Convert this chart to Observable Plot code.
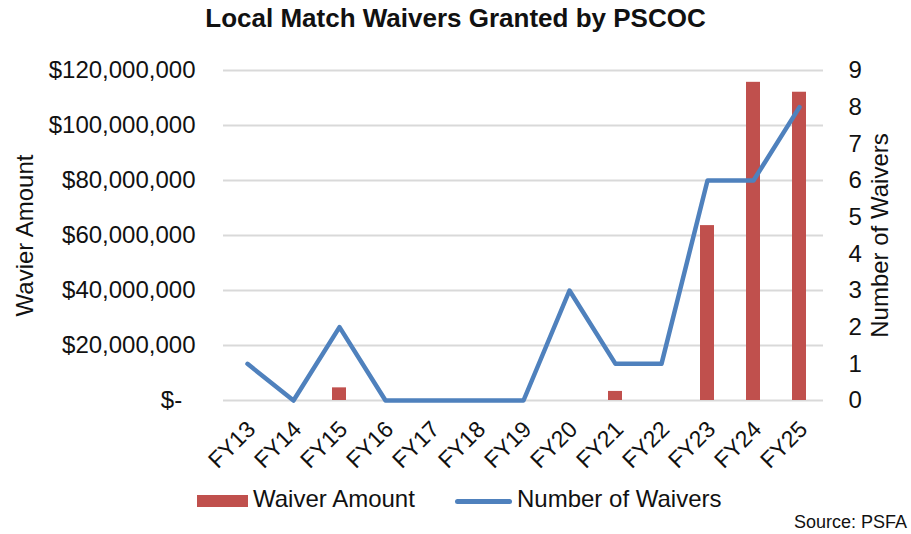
<!DOCTYPE html>
<html>
<head>
<meta charset="utf-8">
<script src="https://cdn.jsdelivr.net/npm/d3@7"></script>
<script src="https://cdn.jsdelivr.net/npm/@observablehq/plot@0.6"></script>
<style>
  html, body { margin: 0; padding: 0; background: #fff; }
  #wrap { position: relative; width: 911px; height: 534px; font-family: "Liberation Sans", Arial, sans-serif; color: #111; overflow: hidden; }
  #title { position: absolute; left: 0; top: 3px; width: 911px; text-align: center; font-weight: bold; font-size: 26px; line-height: 30px; }
  #chart { position: absolute; left: 0; top: 45px; }
  .lg { position: absolute; font-size: 24px; line-height: 30px; top: 484px; white-space: nowrap; }
  #sw1 { position: absolute; left: 197px; top: 495px; width: 51px; height: 12px; background: #C0504D; }
  #sw2 { position: absolute; left: 455px; top: 498.5px; width: 57px; height: 5px; border-radius: 3px; background: #4F81BD; }
  #source { position: absolute; right: 4px; top: 511px; font-size: 18px; line-height: 22px; white-space: nowrap; }
</style>
</head>
<body>
<div id="wrap">
  <div id="title">Local Match Waivers Granted by PSCOC</div>
  <div id="chart"></div>
  <div id="sw1"></div>
  <div class="lg" style="left:253px">Waiver Amount</div>
  <div id="sw2"></div>
  <div class="lg" style="left:517px">Number of Waivers</div>
  <div id="source">Source: PSFA</div>
</div>
<script>
const years = ["FY13","FY14","FY15","FY16","FY17","FY18","FY19","FY20","FY21","FY22","FY23","FY24","FY25"];
const amounts = [0, 0, 4.6e6, 0, 0, 0, 0, 0, 3.3e6, 0, 63.6e6, 115.7e6, 112.1e6];
const counts = [1, 0, 2, 0, 0, 0, 0, 3, 1, 1, 6, 6, 8];
const amountTicks = [0, 20e6, 40e6, 60e6, 80e6, 100e6, 120e6];
const countTicks = [0, 1, 2, 3, 4, 5, 6, 7, 8, 9];
const amountMax = 120e6;
const countMax = 9;
const k = amountMax / countMax;

const data = years.map((y, i) => ({year: y, amount: amounts[i], count: counts[i], scaled: counts[i] * k}));

const fmtAmt = d => d === 0 ? "$-\u00a0\u00a0" : "$" + d3.format(",")(d);

const chart = Plot.plot({
  width: 911,
  height: 435,
  marginTop: 25,
  marginBottom: 80,
  marginLeft: 223,
  marginRight: 88,
  style: {fontFamily: "Liberation Sans, Arial, sans-serif", color: "#111", background: "#fff"},
  x: {domain: years, paddingInner: 0.7, paddingOuter: 0.35, label: null},
  y: {domain: [0, amountMax], label: null},
  marks: [
    Plot.gridY(amountTicks, {stroke: "#d9d9d9", strokeOpacity: 1, strokeWidth: 2}),
    Plot.barY(data, {x: "year", y: "amount", fill: "#C0504D"}),
    Plot.line(data, {x: "year", y: "scaled", stroke: "#4F81BD", strokeWidth: 4.5, strokeLinejoin: "round", strokeLinecap: "round"}),
    Plot.axisY(amountTicks, {anchor: "left", tickSize: 0, tickPadding: 28, tickFormat: fmtAmt, fontSize: 24, label: null}),
    Plot.axisY(countTicks.map(c => c * k), {anchor: "right", tickSize: 0, tickPadding: 25, tickFormat: d => String(Math.round(d / k)), fontSize: 24, label: null}),
    Plot.axisX({tickRotate: -45, tickSize: 0, tickPadding: 12, dx: 4, dy: 13, fontSize: 23, label: null}),
    Plot.text(["Wavier Amount"], {frameAnchor: "left", textAnchor: "middle", dx: -198, rotate: -90, fontSize: 24, fill: "#111"}),
    Plot.text(["Number of Waivers"], {frameAnchor: "right", textAnchor: "middle", dx: 57, rotate: -90, fontSize: 24, fill: "#111"})
  ]
});
document.getElementById("chart").appendChild(chart);
</script>
</body>
</html>
